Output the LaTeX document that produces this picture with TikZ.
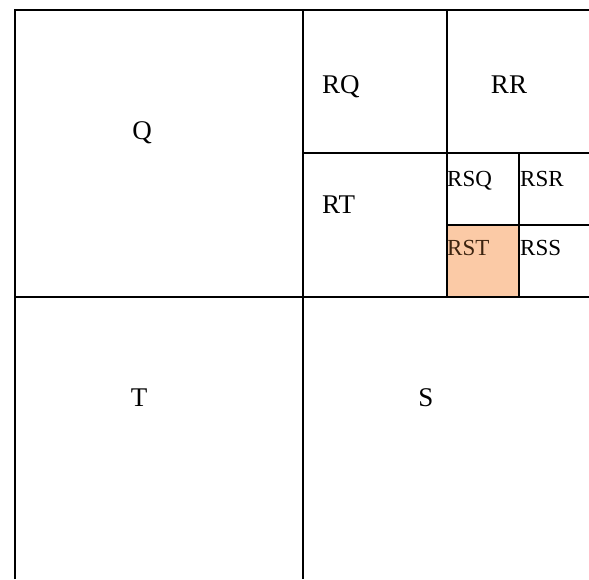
\documentclass[tikz,border=0pt]{standalone}
\usepackage{fontspec}
\setmainfont{Liberation Serif}
\definecolor{rstfill}{RGB}{251,202,166}
\definecolor{rsttext}{RGB}{60,36,16}
\tikzset{
  grid line/.style={line width=1.5pt, black},
  big label/.style={inner sep=0pt, font=\fontsize{27}{30}\selectfont},
  small label/.style={inner sep=0pt, font=\fontsize{23}{26}\selectfont},
}
\begin{document}
\begin{tikzpicture}[x=1pt,y=-1pt]
\useasboundingbox (0,0) rectangle (589,579);
% highlighted cell RST
\fill[rstfill] (447,225) rectangle (519,297);
% grid lines
\draw[grid line] (15,579) -- (15,10) -- (589,10);
\draw[grid line] (303,10) -- (303,579);
\draw[grid line] (15,297) -- (589,297);
\draw[grid line] (447,10) -- (447,297);
\draw[grid line] (303,153) -- (589,153);
\draw[grid line] (519,153) -- (519,297);
\draw[grid line] (447,225) -- (589,225);
\draw[line width=2.5pt] (447,225) rectangle (519,297);
% labels
\node[big label, anchor=base] (q) at (142,139) {Q};
\node[big label, anchor=base west] (rq) at (322,93) {RQ};
\node[big label, anchor=base] (rr) at (509,93) {RR};
\node[big label, anchor=base west] (rt) at (322,213) {RT};
\node[small label, anchor=base west] (rsq) at (447,186) {RSQ};
\node[small label, anchor=base west] (rsr) at (520,186) {RSR};
\node[small label, anchor=base west, text=rsttext] (rst) at (447,255) {RST};
\node[small label, anchor=base west] (rss) at (520,255) {RSS};
\node[big label, anchor=base] (t) at (139,406) {T};
\node[big label, anchor=base] (s) at (426,406) {S};
\end{tikzpicture}
\end{document}
